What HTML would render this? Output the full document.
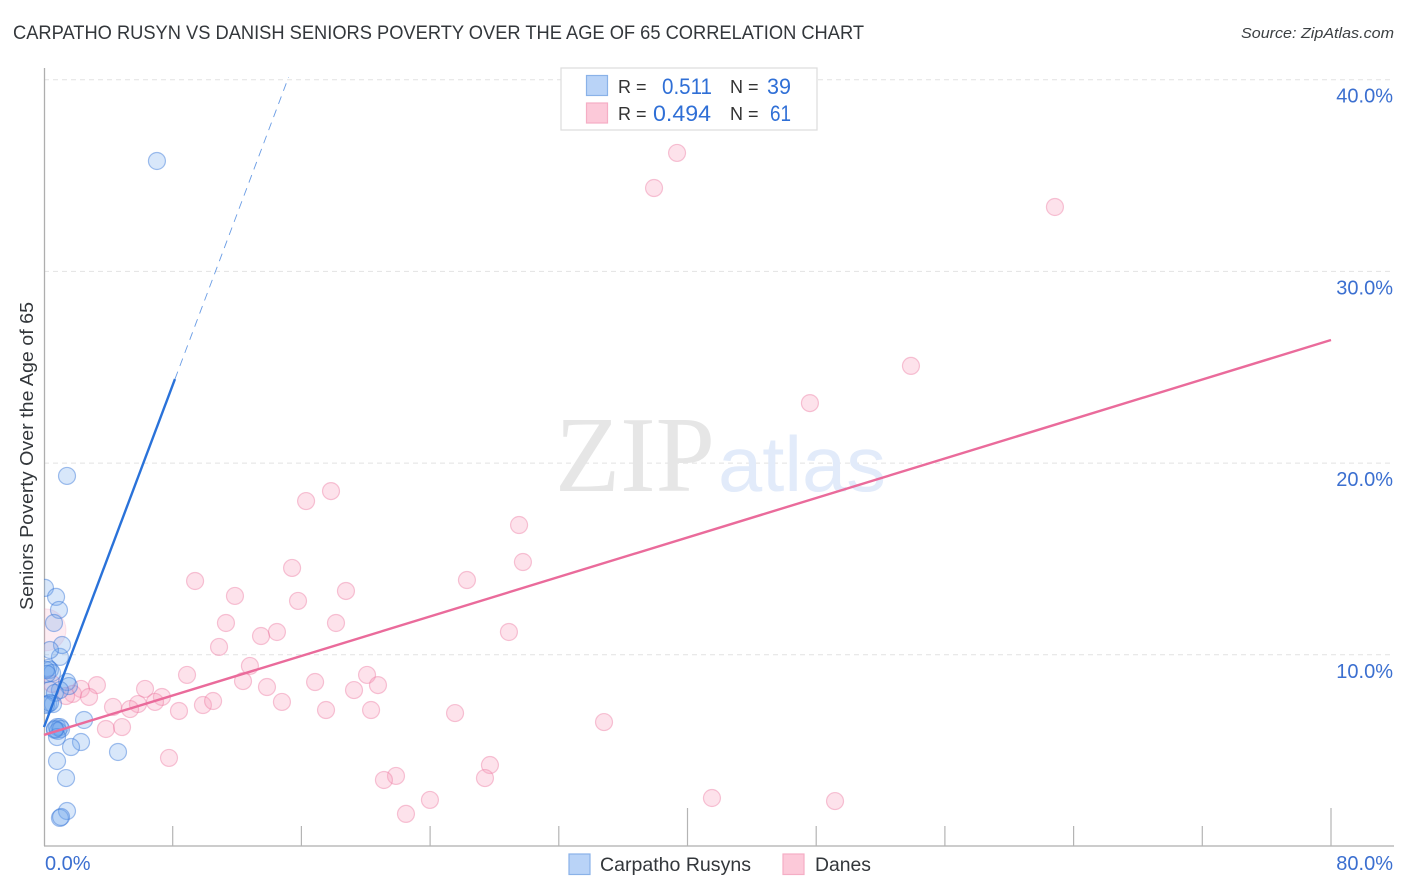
<!DOCTYPE html>
<html lang="en">
<head>
<meta charset="utf-8">
<title>Carpatho Rusyn vs Danish Seniors Poverty Correlation Chart</title>
<style>
html,body{margin:0;padding:0;background:#fff;width:1406px;height:892px;overflow:hidden}
svg{display:block}
text{font-family:"Liberation Sans",sans-serif}
</style>
</head>
<body>
<svg id="chart" width="1406" height="892" viewBox="0 0 1406 892" xmlns="http://www.w3.org/2000/svg">
  <defs>
    <clipPath id="plot-clip"><rect x="44" y="60" width="1350" height="786"/></clipPath>
  </defs>
  <rect x="0" y="0" width="1406" height="892" fill="#ffffff"/>
  <text x="13" y="39" font-size="19" fill="#33373b" textLength="851" lengthAdjust="spacingAndGlyphs">CARPATHO RUSYN VS DANISH SENIORS POVERTY OVER THE AGE OF 65 CORRELATION CHART</text>
  <text x="1241" y="38" font-size="15" font-style="italic" fill="#3c4043" textLength="153" lengthAdjust="spacingAndGlyphs">Source: ZipAtlas.com</text>

  <g id="grid"></g>

  <g>
    <text x="555" y="491" font-size="108" fill="#e6e6e6" textLength="160" lengthAdjust="spacingAndGlyphs" style="font-family:'Liberation Serif',serif">ZIP</text>
    <text x="718" y="491" font-size="78" fill="#e2ebfa" textLength="168" lengthAdjust="spacingAndGlyphs">atlas</text>
  </g>

  <line x1="44.5" y1="68" x2="44.5" y2="846" stroke="#aeaeae" stroke-width="1.3"/>
  <line x1="44" y1="846" x2="1394" y2="846" stroke="#aeaeae" stroke-width="1.3"/>
  <g id="ticks"></g>
  <g id="labels"></g>

  <text transform="translate(33,610) rotate(-90)" x="0" y="0" font-size="18" fill="#33373b" textLength="308" lengthAdjust="spacingAndGlyphs">Seniors Poverty Over the Age of 65</text>

  <g id="danes" clip-path="url(#plot-clip)"></g>
  <g id="rusyns" clip-path="url(#plot-clip)"></g>
  <g id="trends"></g>

  <g>
    <rect x="561" y="68" width="256" height="62" fill="#ffffff" stroke="#dcdcdc" stroke-width="1.2"/>
    <rect x="586.5" y="75.5" width="21" height="20" fill="#b9d3f7" stroke="#8ab2e8" stroke-width="1.2"/>
    <rect x="586.5" y="103" width="21" height="20" fill="#fcc9d9" stroke="#f5aec5" stroke-width="1.2"/>
    <text x="618" y="93" font-size="18" fill="#333333">R =</text>
    <text x="662" y="94" font-size="22" fill="#2f6fd6" textLength="50" lengthAdjust="spacingAndGlyphs">0.511</text>
    <text x="730" y="93" font-size="18" fill="#333333">N =</text>
    <text x="767" y="94" font-size="22" fill="#2f6fd6" textLength="24" lengthAdjust="spacingAndGlyphs">39</text>
    <text x="618" y="120" font-size="18" fill="#333333">R =</text>
    <text x="653" y="121" font-size="22" fill="#2f6fd6" textLength="58" lengthAdjust="spacingAndGlyphs">0.494</text>
    <text x="730" y="120" font-size="18" fill="#333333">N =</text>
    <text x="770" y="121" font-size="22" fill="#2f6fd6" textLength="21" lengthAdjust="spacingAndGlyphs">61</text>
  </g>

  <g>
    <rect x="569" y="854" width="21" height="20.5" fill="#b9d3f7" stroke="#8ab2e8" stroke-width="1.2"/>
    <text x="600" y="871" font-size="19.5" fill="#33373b" textLength="151" lengthAdjust="spacingAndGlyphs">Carpatho Rusyns</text>
    <rect x="783" y="854" width="21" height="20.5" fill="#fcc9d9" stroke="#f5aec5" stroke-width="1.2"/>
    <text x="815" y="871" font-size="19.5" fill="#33373b" textLength="56" lengthAdjust="spacingAndGlyphs">Danes</text>
  </g>
</svg>
<script>
const yTicks = [10, 20, 30, 40];
const yTickLabels = ['10.0%', '20.0%', '30.0%', '40.0%'];
const xTicks = [8, 16, 24, 32, 40, 48, 56, 64, 72, 80];
const xMajorTicks = [40, 80];
const xTickLabels = ['0.0%', '80.0%'];
const xLabelValues = [0, 80];

const rusynsX = [7.02,1.43,0.06,0.75,0.93,0.62,0.99,1.12,0.37,0.25,0.37,0.50,0.12,0.19,1.43,1.55,0.99,0.37,0.68,0.25,0.56,0.12,0.37,2.49,0.81,0.99,0.68,0.87,1.06,0.81,2.30,1.68,4.60,0.81,1.37,1.43,0.99,1.06,0.68];
const rusynsY = [35.76,19.33,13.49,13.02,12.34,11.66,9.89,10.51,10.25,9.31,9.21,9.05,9.21,9.00,8.58,8.37,8.16,8.16,8.01,7.43,7.43,7.38,7.49,6.60,6.23,6.23,6.08,6.03,6.13,5.71,5.45,5.19,4.93,4.46,3.57,1.85,1.49,1.54,6.13];

const danesX = [39.35,37.92,62.84,53.89,47.61,17.84,16.29,29.53,29.77,15.42,26.29,9.39,18.77,11.87,15.79,11.31,18.15,14.48,13.49,28.90,10.88,12.80,8.89,20.08,12.37,16.85,20.76,13.86,19.27,6.28,3.29,2.30,1.80,2.80,7.33,5.84,6.90,4.29,5.35,9.88,10.51,14.79,17.53,20.33,8.39,25.55,34.81,3.85,4.85,7.77,27.72,21.88,21.13,27.41,23.99,22.50,41.52,49.17,0.50,1.37];
const danesY = [36.18,34.35,33.36,25.07,23.13,18.54,18.02,16.77,14.84,14.53,13.90,13.85,13.33,13.07,12.81,11.66,11.66,11.19,10.98,11.19,10.41,9.42,8.95,8.95,8.63,8.58,8.42,8.32,8.16,8.22,8.42,8.22,7.96,7.80,7.80,7.43,7.54,7.28,7.17,7.38,7.59,7.54,7.12,7.12,7.07,6.96,6.49,6.13,6.23,4.62,4.25,3.68,3.47,3.57,2.43,1.70,2.53,2.37,8.48,7.85];
const danesLargeX = [0.06];
const danesLargeY = [11.30];

const rusynsTrendIntercept = 6.23;
const rusynsTrendSlope = 2.23;
const rusynsSolidEnd = 8.14;
const rusynsDashEnd = 15.2;
const danesTrendIntercept = 5.82;
const danesTrendSlope = 0.2575;
const danesTrendEnd = 80;

const NS = 'http://www.w3.org/2000/svg';
function xPos(v) { return 44 + v * 16.0875; }
function yPos(v) { return 846.5 - v * 19.17; }
function mk(tag, parentId, attrs) {
  const el = document.createElementNS(NS, tag);
  for (const k in attrs) el.setAttribute(k, attrs[k]);
  document.getElementById(parentId).appendChild(el);
  return el;
}

yTicks.forEach(function (t, i) {
  const g = mk('line', 'grid', { x1: 44, x2: 1394, y1: yPos(t), y2: yPos(t), stroke: '#e2e2e2', 'stroke-width': 1, 'stroke-dasharray': '5 4' });
  
  
  const l = mk('text', 'labels', { x: 1393, y: yPos(t) + 23, 'font-size': 20, fill: '#3b6fd0', 'text-anchor': 'end' });
  
  
  l.textContent = yTickLabels[i];
});

xTicks.forEach(function (t) {
  const top = xMajorTicks.indexOf(t) >= 0 ? 808 : 826;
  const k = mk('line', 'ticks', { x1: xPos(t), x2: xPos(t), y1: top, y2: 846, stroke: '#b4b4b4', 'stroke-width': 1.2 });
  
  
});

xLabelValues.forEach(function (t, i) {
  const isFirst = i === 0;
  const l = mk('text', 'labels', { x: isFirst ? xPos(t) + 1 : 1393, y: 870, 'font-size': 20, fill: '#3b6fd0', 'text-anchor': isFirst ? 'start' : 'end' });
  
  
  l.textContent = xTickLabels[i];
});

danesLargeX.forEach(function (v, i) {
  const c = mk('circle', 'danes', { cx: xPos(v), cy: yPos(danesLargeY[i]), r: 21, fill: 'rgba(247,160,190,0.2)', stroke: 'rgba(240,140,175,0.22)', 'stroke-width': 1 });
  
  
});

danesX.forEach(function (v, i) {
  const c = mk('circle', 'danes', { cx: xPos(v), cy: yPos(danesY[i]), r: 8.5, fill: 'rgba(247,160,190,0.3)', stroke: 'rgba(236,120,160,0.42)', 'stroke-width': 1.2 });
  
  
});

rusynsX.forEach(function (v, i) {
  const c = mk('circle', 'rusyns', { cx: xPos(v), cy: yPos(rusynsY[i]), r: 8.5, fill: 'rgba(110,165,235,0.27)', stroke: 'rgba(50,115,215,0.45)', 'stroke-width': 1.2 });
  
  
});

const solid = mk('line', 'trends', { x1: xPos(0), y1: yPos(rusynsTrendIntercept), x2: xPos(rusynsSolidEnd), y2: yPos(rusynsTrendIntercept + rusynsTrendSlope * rusynsSolidEnd), stroke: '#2a72d9', 'stroke-width': 2.4 });



const dash = mk('line', 'trends', { x1: xPos(rusynsSolidEnd), y1: yPos(rusynsTrendIntercept + rusynsTrendSlope * rusynsSolidEnd), x2: xPos(rusynsDashEnd), y2: yPos(rusynsTrendIntercept + rusynsTrendSlope * rusynsDashEnd), stroke: '#2a72d9', 'stroke-width': 0.9, 'stroke-dasharray': '8 6', opacity: 0.7 });



const pinkLine = mk('line', 'trends', { x1: xPos(0), y1: yPos(danesTrendIntercept), x2: xPos(danesTrendEnd), y2: yPos(danesTrendIntercept + danesTrendSlope * danesTrendEnd), stroke: '#ea6b9b', 'stroke-width': 2.4 });


</script>
</body>
</html>
